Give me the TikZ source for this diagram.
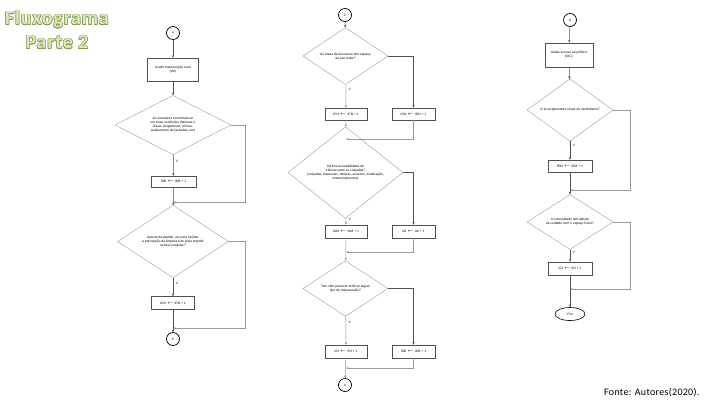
\documentclass[tikz,border=0pt]{standalone}
\usepackage{fontspec}
\usepackage{xcolor}
\usetikzlibrary{arrows.meta,shapes.geometric,calc}
\newfontfamily\flowfont{Liberation Sans}
\newfontfamily\titlefont[LetterSpace=4]{Carlito}
\newfontfamily\notefont[LetterSpace=3]{Carlito}
\newcommand\ftiny{\flowfont\fontsize{3.3}{3.9}\selectfont}
\definecolor{fcline}{HTML}{505050}
\definecolor{fcsoft}{HTML}{9A9A9A}
\definecolor{ttlfill}{HTML}{DCE7C2}
\definecolor{ttledge}{HTML}{7F9A48}
\tikzset{
  proc/.style={rectangle, draw=fcline, fill=white, align=center, font=\ftiny,
               inner sep=0pt, line width=0.5pt},
  dec/.style={diamond, draw=fcsoft, align=center, font=\ftiny, inner sep=0pt,
              line width=0.4pt},
  conn/.style={circle, draw=black, line width=0.7pt, minimum size=13pt,
               inner sep=0pt, font=\ftiny},
  term/.style={ellipse, draw=black, line width=0.6pt, minimum width=30pt,
               minimum height=13pt, inner sep=0pt, font=\ftiny},
  ar/.style={-{Stealth[length=2.6pt,width=2.4pt]}, draw=fcline, line width=0.5pt},
  arsoft/.style={-{Stealth[length=2.6pt,width=2.4pt]}, draw=fcsoft, line width=0.5pt},
  lbl/.style={font=\ftiny, inner sep=0.5pt},
  ttlstyle/.style={font=\titlefont\bfseries\fontsize{20}{24}\selectfont, align=center},
}

\begin{document}
\begin{tikzpicture}[x=1pt,y=-1pt]
\useasboundingbox (0,0) rectangle (720,405);

% ---------- title ----------
\foreach \dx/\dy [count=\i] in {-0.5/0,0.5/0,0/-0.5,0/0.5,0.5/0.5,-0.5/-0.5,0.5/-0.5,-0.5/0.5}{
  \node[ttlstyle,text=ttledge] (ttl-\i) at ($(57,30)+(\dx,\dy)$) {Fluxograma\\Parte 2};
}
\node[ttlstyle,text=ttlfill] (ttl) at (57,30) {Fluxograma\\Parte 2};

% ---------- column 1 ----------
\node[conn] (c1a) at (173,33) {a};
\node[proc,minimum width=51pt,minimum height=23pt] (p1) at (173,69.5)
  {Avalie manutenção rural\\(IM)};
\node[dec,minimum width=116pt,minimum height=54pt] (d11) at (173,125)
  {As estruturas encontram-se\\em boas condições (laminas e\\faixas, pingadeiras, trincas,\\acabamento de fachadas, etc)};
\node[proc,minimum width=45pt,minimum height=11pt] (b11) at (173.5,181.5)
  {IDB $\leftarrow$ IDB + 1};
\coordinate (m11) at (173,202);
\node[dec,minimum width=111pt,minimum height=53pt] (d12) at (173,241.5)
  {Apresenta padrão, etc para facilitar\\a percepção da limpeza e/ou para impedir\\acesso irregular?};
\node[proc,minimum width=43pt,minimum height=13pt] (b12) at (173,303)
  {IDN $\leftarrow$ IDN + 1};
\coordinate (m12) at (173,328);
\node[conn] (c1b) at (173,339) {Z};

\draw[ar] (c1a) -- (p1);
\draw[ar] (p1) -- (d11);
\draw[ar] (d11) -- (b11) node[lbl,pos=0.3,right=2pt]{V};
\draw[ar] (b11) -- (d12);
\draw[arsoft] (d11.east) -| ($(m11)+(72,0)$) -- (m11);
\draw[ar] (d12) -- (b12) node[lbl,pos=0.3,right=2pt]{V};
\draw[ar] (b12) -- (c1b);
\draw[arsoft] (d12.east) -| ($(m12)+(72,0)$) -- (m12);

% ---------- column 2 ----------
\node[conn] (c2a) at (345,15) {Z};
\node[dec,minimum width=85pt,minimum height=48pt] (d21) at (345.5,56)
  {As áreas de descanso têm espaço\\ao seu redor?};
\node[proc,minimum width=42pt,minimum height=12pt] (l21) at (346,114)
  {ICN $\leftarrow$ ICN + 1};
\node[proc,minimum width=43pt,minimum height=12pt] (r21) at (413.5,114)
  {IDN $\leftarrow$ IDN + 1};
\coordinate (m21) at (346,139);
\node[dec,minimum width=115pt,minimum height=55pt] (d22) at (345.5,172.5)
  {Há boa acessibilidade de\\trânsito entre as calçadas?\\(calçadas, travessias, rampas, acessos, sinalização,\\estacionamentos)};
\node[proc,minimum width=42pt,minimum height=13pt] (l22) at (346,231.5)
  {IAM $\leftarrow$ IAM + 1};
\node[proc,minimum width=43pt,minimum height=13pt] (r22) at (413.5,231.5)
  {IAI $\leftarrow$ IAI + 1};
\coordinate (m22) at (346,252);
\node[dec,minimum width=85pt,minimum height=49pt] (d23) at (345.5,288.5)
  {Tem sido possível verificar algum\\tipo de manutenção?};
\node[proc,minimum width=42pt,minimum height=13pt] (l23) at (346,351.5)
  {IDI $\leftarrow$ IDI + 1};
\node[proc,minimum width=43pt,minimum height=13pt] (r23) at (413.5,351.5)
  {IDB $\leftarrow$ IDB + 1};
\coordinate (m23) at (346,368);
\node[conn] (c2b) at (345,385) {A};

\draw[ar] (c2a) -- (d21);
\draw[arsoft] (d21) -- (l21) node[lbl,pos=0.2,right=2pt]{V};
\draw[ar] (d21.east) -| (r21.north);
\draw[arsoft] (l21) -- (d22);
\draw[arsoft] (r21.south) |- (m21);
\draw[arsoft] (d22) -- (l22) node[lbl,pos=0.2,right=2pt]{V};
\draw[ar] (d22.east) -| (r22.north);
\draw[arsoft] (l22) -- (d23);
\draw[arsoft] (r22.south) |- (m22);
\draw[arsoft] (d23) -- (l23) node[lbl,pos=0.2,right=2pt]{V};
\draw[ar] (d23.east) -| (r23.north);
\draw[arsoft] (l23) -- (c2b);
\draw[arsoft] (r23.south) |- (m23);

% ---------- column 3 ----------
\node[conn] (c3a) at (570,20) {A};
\node[proc,minimum width=48pt,minimum height=24pt] (p3) at (569,55)
  {Avalie acesso ao público\\(IAC)};
\node[dec,minimum width=86pt,minimum height=50pt] (d31) at (570,110)
  {O local apresenta sinais de vandalismo?};
\node[proc,minimum width=44pt,minimum height=12pt] (b31) at (570,166)
  {IEM $\leftarrow$ IEM + 1};
\coordinate (m31) at (570,190);
\node[dec,minimum width=86pt,minimum height=48pt] (d32) at (570,222)
  {A comunidade tem atitude\\de cuidado com o espaço físico?};
\node[proc,minimum width=44pt,minimum height=13pt] (b32) at (570,268.5)
  {IDI $\leftarrow$ IDI + 1};
\coordinate (m32) at (570,289);
\node[term] (fim) at (570,314) {Fim};

\draw[ar] (c3a) -- (p3);
\draw[ar] (p3) -- (d31);
\draw[ar] (d31) -- (b31) node[lbl,pos=0.2,right=2pt]{V};
\draw[ar] (b31) -- (d32);
\draw[arsoft] (d31.east) -| ($(m31)+(60,0)$) -- (m31);
\draw[ar] (d32) -- (b32) node[lbl,pos=0.2,right=2pt]{V};
\draw[ar] (b32) -- (fim);
\draw[arsoft] (d32.east) -| ($(m32)+(60,0)$) -- (m32);

% ---------- source ----------
\node[font=\notefont\fontsize{10}{12}\selectfont,anchor=east] (src) at (703,393)
  {Fonte: Autores(2020).};
\end{tikzpicture}
\end{document}
